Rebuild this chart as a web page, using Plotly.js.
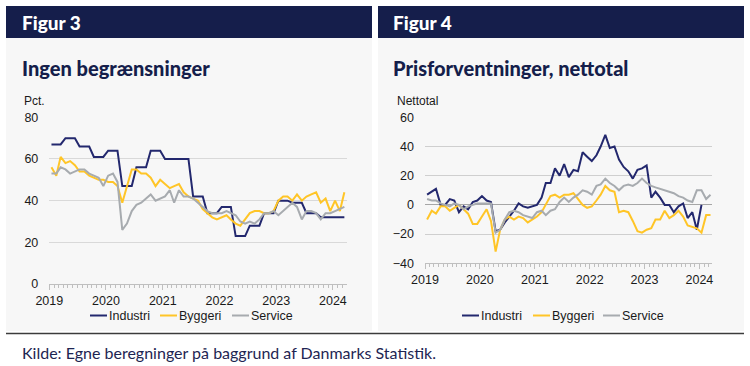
<!DOCTYPE html>
<html>
<head>
<meta charset="utf-8">
<script src="https://cdn.plot.ly/plotly-3.0.1.min.js"></script>
<style>
html,body{margin:0;padding:0;background:#ffffff;}
#chart{width:750px;height:366px;}
</style>
</head>
<body>
<div id="chart"></div>
<script>
// ---- Data (monthly, Jan 2019 - Mar 2024) ----
const startYear = 2019;
const nMonths = 63;
const seriesNames = ['Industri', 'Byggeri', 'Service'];
const yearTicks = ['2019', '2020', '2021', '2022', '2023', '2024'];

// Figur 3: Ingen begrænsninger (Pct.)
const fig3Industri = [67,67,67, 70,70,70, 66,66,66, 61,61,61, 64,64,64, 47,47,47, 56,56,56, 64,64,64,
  60,60,60, 60,60,60, 42,42,42, 34,34,34, 37,37,37, 23,23,23, 28,28,28, 34,34,34,
  40,40,40, 39,39,39, 34,34,34, 32,32,32, 32,32,32];
const fig3Byggeri = [56,52,61,58,59,57,54,54,52,51,50,50,49,49,47,39,47,55,55,53,53,51,47,50,48,46,47,48,
  44,42,41,40,36,34,32,31,
  32,33,31,29,28,31,34,35,35,34,34,35,40,42,42,40,43,40,42,43,44,39,41,35,40,35,44];
const fig3Service = [53,53,56,55,53,54,55,55,53,52,51,47,52,53,49,26,29,35,38,39,41,43,40,41,42,45,39,45,42,42,41,
  39,37,35,34,34,34,35,34,33,30,29,30,29,31,34,34,35,33,35,37,39,37,31,35,35,34,31,34,34,35,36,37];

// Figur 4: Prisforventninger, nettotal
const fig4Industri = [7,9,11,0,0,4,3,-5,-1,-3, 2,3,6,3,2,-18,-17,-12,-8,-4, 1,-1,-2,-1,0,5,15,15,25,20,
  28,19,24,23,36,33,30,34,40,48, 39,40,31,26,23,18,24,25,27,5, 9,5,0,0,-5,-1,1,-9,-5,-17, 0];
const fig4Byggeri = [-10,-4,-6,-1,-1,-4,-2,0,-3,-6, -13,-13,-8,-3,-11,-32,-17,-10,-8,-10, -8,-9,-12,-10,-8,-5,0,6,7,5,
  7,7,8,4,0,-2,-1,3,7,13, 10,9,-5,-4,-5,-11,-18,-19,-17,-16, -10,-10,-4,-9,-7,-4,-8,-14,-15,-16, -19,-7,-7];
const fig4Service = [4,3,3,1,0,-1,1,0,-3,-1, 0,1,1,1,1,-19,-17,-10,-5,-4, -5,-7,-8,-9,-5,-4,-7,-4,-3,2,
  5,2,5,7,10,9,7,13,14,18, 15,13,10,13,14,13,15,18,15,13, 12,11,10,9,8,6,5,3,2,10, 10,4,7];

// month dates (mid-month)
const months = [];
for (let i = 0; i < nMonths; i++) {
  const y = startYear + Math.floor(i / 12);
  const m = (i % 12) + 1;
  months.push(y + '-' + String(m).padStart(2, '0') + '-15');
}

const colors = {Industri: '#23286E', Byggeri: '#FFC527', Service: '#A7ABAF'};
const navy = '#151E4B';

function mk(vals, name, xa, ya) {
  return {
    x: months.slice(0, vals.length), y: vals, name: name, type: 'scatter', mode: 'lines',
    line: {color: colors[name], width: 2}, xaxis: xa, yaxis: ya, showlegend: false,
    hoverinfo: 'skip'
  };
}

const traces = [
  mk(fig3Industri, 'Industri', 'x', 'y'),
  mk(fig3Byggeri, 'Byggeri', 'x', 'y'),
  mk(fig3Service, 'Service', 'x', 'y'),
  mk(fig4Industri, 'Industri', 'x2', 'y2'),
  mk(fig4Byggeri, 'Byggeri', 'x2', 'y2'),
  mk(fig4Service, 'Service', 'x2', 'y2')
];

const W = 750, H = 366;
const px = v => v / W;
const py = v => 1 - v / H;

const tickFont = {family: 'Liberation Sans, Arial, sans-serif', size: 12.5, color: '#1a1a1a'};

function xAxis(d0, d1, rangeEnd, anchor) {
  return {
    domain: [px(d0), px(d1)], anchor: anchor, type: 'date',
    range: ['2019-01-01', rangeEnd],
    tickvals: yearTicks.map(y => y + '-01-01'), ticktext: yearTicks,
    ticks: 'outside', ticklen: 5, tickwidth: 1, tickcolor: '#BFBFBF',
    showline: true, linecolor: '#BFBFBF', linewidth: 1,
    showgrid: false, zeroline: false, tickfont: tickFont,
    minor: {dtick: 'M1', tick0: '2019-01-01', ticks: 'outside', ticklen: 3, tickcolor: '#BFBFBF', showgrid: false},
    fixedrange: true
  };
}

function yAxis(yTop, yBot, range, anchor, gridc) {
  return {
    domain: [py(yBot), py(yTop)], anchor: anchor, range: range, dtick: 20,
    showgrid: true, gridcolor: gridc, gridwidth: 1,
    ticks: '', showline: false, tickfont: tickFont, ticklabelstandoff: 10,
    fixedrange: true
  };
}

const shapes = [
  {type: 'rect', xref: 'paper', yref: 'paper', x0: px(6), x1: px(372), y0: py(331), y1: py(38), fillcolor: '#F7F7F7', line: {width: 0}, layer: 'below'},
  {type: 'rect', xref: 'paper', yref: 'paper', x0: px(378), x1: px(744), y0: py(331), y1: py(38), fillcolor: '#F7F7F7', line: {width: 0}, layer: 'below'},
  {type: 'rect', xref: 'paper', yref: 'paper', x0: px(6), x1: px(372), y0: py(38), y1: py(6), fillcolor: navy, line: {width: 0}, layer: 'below'},
  {type: 'rect', xref: 'paper', yref: 'paper', x0: px(378), x1: px(744), y0: py(38), y1: py(6), fillcolor: navy, line: {width: 0}, layer: 'below'},
  {type: 'line', xref: 'paper', yref: 'paper', x0: px(6), x1: px(744), y0: py(333.5), y1: py(333.5), line: {color: '#3C3C3C', width: 1.5}}
];

const annotations = [];
function txt(t, x, y, font, anchor) {
  annotations.push({text: t, xref: 'paper', yref: 'paper', x: px(x), y: py(y), xanchor: anchor || 'left', yanchor: 'middle', showarrow: false, font: font, borderpad: 0});
}
const headFont = {family: 'Lato, sans-serif', size: 19, color: '#FFFFFF', weight: 900};
const subFont = {family: 'Lato, sans-serif', size: 20, color: navy, weight: 900};
const smallFont = {family: 'Liberation Sans, Arial, sans-serif', size: 12, color: '#1a1a1a'};
const legFont = {family: 'Liberation Sans, Arial, sans-serif', size: 12.5, color: '#1a1a1a'};

txt('Figur 3', 21, 23, headFont);
txt('Figur 4', 392, 23, headFont);
txt('Ingen begrænsninger', 21, 68, subFont);
txt('Prisforventninger, nettotal', 392, 68, subFont);
txt('Pct.', 23, 101, smallFont);
txt('Nettotal', 396, 101, smallFont);

const legendRows = [
  {x0: 90, names: seriesNames, offs: [0, 70, 142]},
  {x0: 462, names: seriesNames, offs: [0, 71, 141]}
];
legendRows.forEach(r => {
  r.names.forEach((n, i) => {
    const lx = r.x0 + r.offs[i];
    shapes.push({type: 'line', xref: 'paper', yref: 'paper', x0: px(lx), x1: px(lx + 17), y0: py(315.5), y1: py(315.5), line: {color: colors[n], width: 2}});
    txt(n, lx + 17.5, 315.5, legFont);
  });
});

txt('Kilde: Egne beregninger på baggrund af Danmarks Statistik.', 21, 352.5,
  {family: 'Lato, sans-serif', size: 16, color: '#1E2552'});

const layout = {
  width: W, height: H,
  margin: {l: 0, r: 0, t: 0, b: 0, pad: 0},
  paper_bgcolor: '#FFFFFF', plot_bgcolor: 'rgba(0,0,0,0)',
  showlegend: false,
  xaxis: xAxis(49.3, 346.7, '2024-03-30', 'y'),
  yaxis: yAxis(117.3, 284, [0, 80], 'x', '#D9D9D9'),
  xaxis2: xAxis(425, 711.7, '2024-03-23', 'y2'),
  yaxis2: Object.assign(yAxis(117.3, 263.3, [-40, 60], 'x2', '#CFCFCF'), {zeroline: true, zerolinecolor: '#A6A6A6', zerolinewidth: 1}),
  shapes: shapes,
  annotations: annotations
};

Plotly.newPlot('chart', traces, layout, {staticPlot: true, displayModeBar: false});
</script>
</body>
</html>
